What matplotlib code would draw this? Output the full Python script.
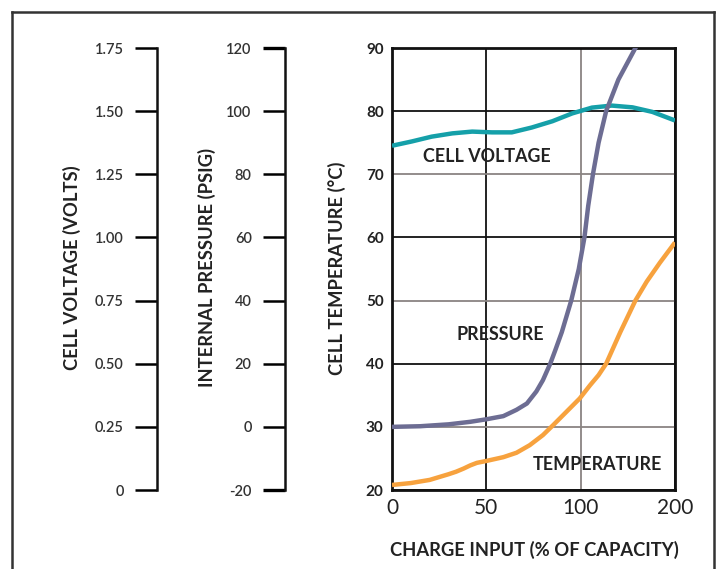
import matplotlib
matplotlib.use("Agg")
import matplotlib.pyplot as plt
from matplotlib.lines import Line2D
import numpy as np

plt.rcParams['font.family'] = ['Lato', 'DejaVu Sans']

# x axis: charge input, ticks are evenly spaced although the values are not
charge_ticks = [0, 50, 100, 200]
charge_labels = ['0', '50', '100', '200']

# cell voltage (volts)
volt_charge = [0, 10.5, 21, 32, 42.5, 53, 63.5, 74, 85, 95.5, 112, 133, 155, 176, 200]
volt_values = [1.363, 1.380, 1.399, 1.412, 1.419, 1.416, 1.416, 1.435, 1.460,
               1.491, 1.514, 1.522, 1.515, 1.497, 1.463]

# internal pressure (psig)
pres_charge = [0, 15, 30, 41.5, 50, 59, 66, 71.5, 76.5, 80, 84, 86.5, 90,
               95, 99, 104, 108, 113, 119, 127, 140, 158, 180]
pres_values = [0, 0.2, 0.8, 1.6, 2.4, 3.4, 5.4, 7.4, 11.2, 14.8, 20.2, 24.2,
               30, 40, 50, 60, 70, 80, 90, 100, 110, 120, 130]

# cell temperature (deg C)
temp_charge = [0, 10, 20, 30, 34, 38, 41.5, 45, 50, 59, 66, 73, 80, 85.5, 92.5,
               99.5, 110, 119, 127, 142, 158, 170, 184, 200]
temp_values = [20.8, 21.1, 21.6, 22.5, 22.9, 23.4, 23.9, 24.3, 24.6, 25.2, 25.9,
               27.1, 28.7, 30.3, 32.4, 34.5, 36.6, 38.2, 40, 45, 50, 53, 56, 59.2]

volt_ticks = [0, 0.25, 0.5, 0.75, 1.0, 1.25, 1.5, 1.75]
volt_tick_labels = ['0', '0.25', '0.50', '0.75', '1.00', '1.25', '1.50', '1.75']
pres_ticks = [-20, 0, 20, 40, 60, 80, 100, 120]
temp_ticks = [20, 30, 40, 50, 60, 70, 80, 90]

BLACK = '#111111'
GREY = '#8a8482'
TEAL = '#15a0a9'
PURPLE = '#6d6d93'
ORANGE = '#f7a23e'

W, H = 718, 569
fig = plt.figure(figsize=(W / 100, H / 100), dpi=100)

def px(x0, y0, x1, y1):
    return [x0 / W, 1 - y1 / H, (x1 - x0) / W, (y1 - y0) / H]

def fwd(x):
    return np.interp(x, charge_ticks, [0, 1, 2, 3])

def inv(x):
    return np.interp(x, [0, 1, 2, 3], charge_ticks)

ax = fig.add_axes(px(392, 48, 675, 490))
ax.set_xscale('function', functions=(fwd, inv))
ax.set_xlim(0, 200)
ax.set_ylim(20, 90)
ax.set_xticks(charge_ticks)
ax.set_xticklabels(charge_labels, fontsize=15, color='#222222')
ax.set_yticks(temp_ticks)
ax.set_yticklabels([str(t) for t in temp_ticks], fontsize=11,
                   fontweight='bold', color='#222222')
ax.tick_params(axis='both', length=0)
ax.tick_params(axis='x', pad=6)
ax.tick_params(axis='y', pad=6)
for s in ax.spines.values():
    s.set_linewidth(2.0)
    s.set_color(BLACK)
ax.grid(True, linewidth=1.3)
for i, t in enumerate(ax.yaxis.get_major_ticks()):
    t.gridline.set_color(GREY if i % 2 == 1 else BLACK)
for i, t in enumerate(ax.xaxis.get_major_ticks()):
    t.gridline.set_color(GREY if i == 2 else BLACK)
ax.set_axisbelow(True)

line_kw = dict(lw=3.2, solid_capstyle='butt', solid_joinstyle='round')
ax.plot(temp_charge, temp_values, color=ORANGE, zorder=3, **line_kw)

axv = ax.twinx()
axv.set_ylim(0, 1.75)
axv.axis('off')
axv.plot(volt_charge, volt_values, color=TEAL, zorder=3, **line_kw)

axp = ax.twinx()
axp.set_ylim(-20, 120)
axp.axis('off')
axp.plot(pres_charge, pres_values, color=PURPLE, zorder=4, **line_kw)

# separate scales for voltage and pressure
def side_scale(x, ticks, labels, lim, colors, widths):
    a = fig.add_axes(px(x, 48, x + 1, 490))
    a.set_ylim(*lim)
    a.set_xticks([])
    for k in ['top', 'bottom', 'right']:
        a.spines[k].set_visible(False)
    a.spines['left'].set_linewidth(1.8)
    a.spines['left'].set_color(BLACK)
    a.patch.set_alpha(0)
    a.set_yticks(ticks)
    a.set_yticklabels(labels, fontsize=10.5, fontweight='semibold', color='#333333')
    a.tick_params(axis='y', length=16, width=1.8, pad=8)
    for t, c, w in zip(a.yaxis.get_major_ticks(), colors, widths):
        t.tick1line.set_color(c)
        t.tick1line.set_markeredgewidth(w)
    return a

side_scale(157, volt_ticks, volt_tick_labels, (0, 1.75),
           [BLACK, GREY, BLACK, GREY, BLACK, GREY, BLACK, GREY],
           [1.8] * 8)
side_scale(285, pres_ticks, [str(p) for p in pres_ticks], (-20, 120),
           [BLACK, GREY, BLACK, GREY, BLACK, GREY, BLACK, BLACK],
           [2.4, 1.8, 1.8, 1.8, 1.8, 1.8, 1.8, 2.4])

lab = dict(rotation=90, ha='center', va='center', fontsize=13.2,
           fontweight='bold', color='#222222')
fig.text(72 / W, 1 - 268 / H, 'CELL VOLTAGE (VOLTS)', **lab)
fig.text(207 / W, 1 - 268 / H, 'INTERNAL PRESSURE (PSIG)', **lab)
fig.text(337 / W, 1 - 268 / H, 'CELL TEMPERATURE (°C)', **lab)

inner = dict(ha='center', va='center', fontsize=12.9, fontweight='bold', color='#222222')
fig.text(487 / W, 1 - 157 / H, 'CELL VOLTAGE', **inner)
fig.text(500 / W, 1 - 335 / H, 'PRESSURE', **inner)
fig.text(597 / W, 1 - 465 / H, 'TEMPERATURE', **inner)
fig.text(534 / W, 1 - 550 / H, 'CHARGE INPUT (% OF CAPACITY)', ha='center',
         va='center', fontsize=13.2, fontweight='bold', color='#222222')

# outer frame, open at the bottom
for xs, ys in [([12, 12], [12, H]), ([714, 714], [12, H]), ([12, 714], [12, 12])]:
    fig.add_artist(Line2D([x / W for x in xs], [1 - y / H for y in ys],
                          color='#333333', lw=1.8))

fig.savefig('out.png', dpi=100)
